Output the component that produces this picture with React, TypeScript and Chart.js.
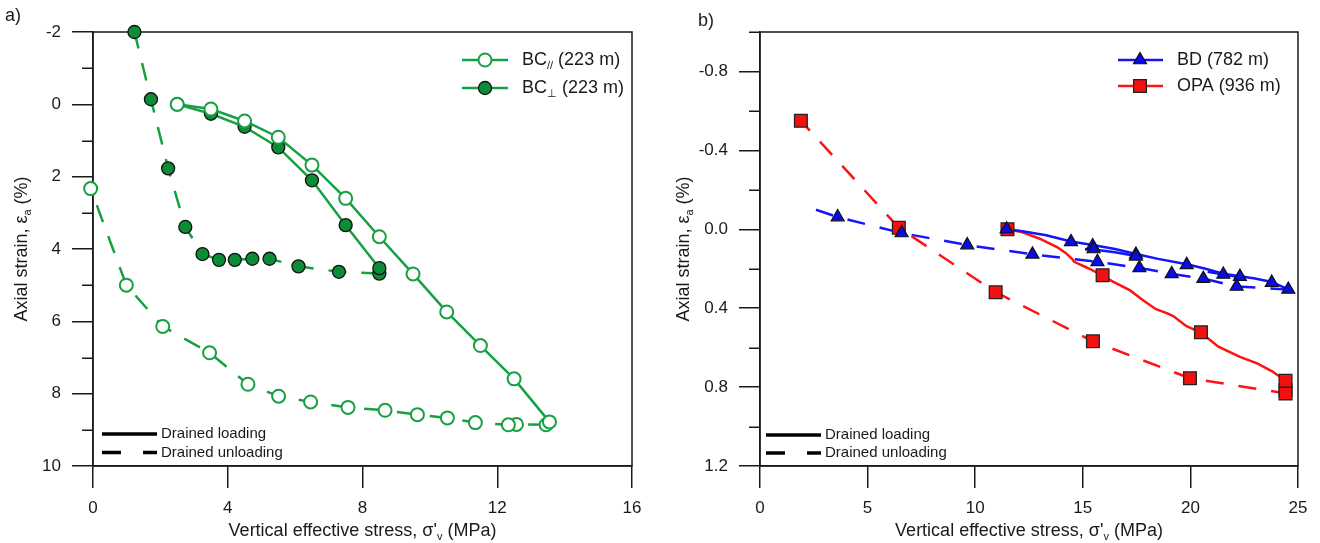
import React, { useEffect, useRef } from 'react';
import { Chart, registerables } from 'chart.js';

Chart.register(...registerables);

const FONT = '"Liberation Sans", Arial, Helvetica, sans-serif';
const INK = '#1a1a1a';
const GREEN = '#16a042';
const GREEN_FILL = '#0b8d37';
const BLUE = '#1414ff';
const BLUE_FILL = '#0b0be6';
const RED = '#ff1212';
const RED_FILL = '#f41010';

// ---------- Panel a) : BC samples (223 m) ----------
const xTicksA = [0, 4, 8, 12, 16];
const yTicksA = [-2, 0, 2, 4, 6, 8, 10];
const yMinorA = [-1, 1, 3, 5, 7, 9];

const bcParLoadX = [2.5, 3.5, 4.5, 5.5, 6.5, 7.5, 8.5, 9.5, 10.5, 11.5, 12.5, 13.55];
const bcParLoadY = [0, 0.13, 0.46, 0.91, 1.68, 2.6, 3.66, 4.69, 5.74, 6.67, 7.59, 8.78];
const bcParUnloadX = [13.45, 12.57, 12.33, 11.35, 10.52, 9.63, 8.67, 7.57, 6.46, 5.51, 4.6, 3.46, 2.07, 0.99, -0.07];
const bcParUnloadY = [8.86, 8.85, 8.86, 8.8, 8.67, 8.58, 8.46, 8.38, 8.23, 8.07, 7.74, 6.87, 6.14, 5.0, 2.33];

const bcPerpLoadX = [2.5, 3.5, 4.5, 5.5, 6.5, 7.5, 8.5];
const bcPerpLoadY = [0, 0.26, 0.62, 1.19, 2.1, 3.34, 4.53];
const bcPerpUnloadX = [8.5, 7.3, 6.1, 5.24, 4.73, 4.21, 3.74, 3.25, 2.74, 2.23, 1.72, 1.23];
const bcPerpUnloadY = [4.68, 4.63, 4.48, 4.27, 4.27, 4.3, 4.3, 4.14, 3.39, 1.77, -0.14, -2.0];

// ---------- Panel b) : BD (782 m) and OPA (936 m) ----------
const xTicksB = [0, 5, 10, 15, 20, 25];
const yTicksB = [-0.8, -0.4, 0, 0.4, 0.8, 1.2];
const yMinorB = [-1.0, -0.6, -0.2, 0.2, 0.6, 1.0];

const bdLoadX = [11.5, 12.2, 13.3, 14.45, 15.46, 16.5, 17.47, 18.5, 19.83, 20.7, 21.53, 22.3, 23.0, 23.78, 24.55];
const bdLoadY = [0, 0.01, 0.03, 0.062, 0.08, 0.1, 0.125, 0.15, 0.177, 0.2, 0.225, 0.238, 0.25, 0.267, 0.305];
const bdReload1X = [15.1, 15.5, 16.5, 17.47];
const bdReload1Y = [0.1, 0.102, 0.116, 0.135];
const bdReload2X = [20.8, 21.53, 22.3];
const bdReload2Y = [0.215, 0.229, 0.243];
const bdUnloadX = [24.55, 22.15, 20.6, 19.13, 17.63, 15.68, 12.66, 9.63, 6.58, 3.61, 2.3];
const bdUnloadY = [0.305, 0.29, 0.25, 0.226, 0.196, 0.165, 0.127, 0.08, 0.019, -0.062, -0.11];
const bdMarkX = [11.46, 14.45, 15.46, 15.5, 17.47, 17.47, 19.83, 21.53, 22.3, 23.78, 24.55, 22.15, 20.6, 19.13, 17.63, 15.68, 12.66, 9.63, 6.58, 3.61];
const bdMarkY = [0.0, 0.064, 0.085, 0.1, 0.128, 0.137, 0.18, 0.229, 0.24, 0.27, 0.305, 0.29, 0.25, 0.226, 0.196, 0.165, 0.127, 0.08, 0.019, -0.062];

const opaLoadX = [11.5, 12.2, 13.0, 13.8, 14.2, 14.5, 14.6, 15.2, 15.9, 16.4, 17.2, 17.8, 18.4, 18.9, 19.2, 19.8, 20.5, 21.3, 22.3, 23.1, 23.8, 24.42];
const opaLoadY = [0, 0.015, 0.048, 0.09, 0.12, 0.15, 0.165, 0.195, 0.233, 0.265, 0.31, 0.36, 0.405, 0.425, 0.44, 0.49, 0.525, 0.595, 0.647, 0.68, 0.72, 0.768];
const opaLoadMarkX = [11.5, 15.92, 20.49, 24.42];
const opaLoadMarkY = [0, 0.233, 0.522, 0.768];
const opaUnloadX = [24.42, 24.42, 19.98, 15.47, 10.95, 6.45, 1.9];
const opaUnloadY = [0.815, 0.832, 0.755, 0.568, 0.319, -0.008, -0.55];

// ---------- texts ----------
type Part = { t: string; sub?: boolean };
const yTitleParts: Part[] = [{ t: 'Axial strain, ε' }, { t: 'a', sub: true }, { t: ' (%)' }];
const xTitleParts: Part[] = [{ t: "Vertical effective stress, σ'" }, { t: 'v', sub: true }, { t: ' (MPa)' }];
const legendBCpar: Part[] = [{ t: 'BC' }, { t: '//', sub: true }, { t: ' (223 m)' }];
const legendBCperp: Part[] = [{ t: 'BC' }, { t: '⊥', sub: true }, { t: ' (223 m)' }];
const legendBD: Part[] = [{ t: 'BD (782 m)' }];
const legendOPA: Part[] = [{ t: 'OPA (936 m)' }];
const loadingText = 'Drained loading';
const unloadingText = 'Drained unloading';

const pts = (xs: number[], ys: number[]) => xs.map((x, i) => ({ x, y: ys[i] }));

function drawRich(ctx: CanvasRenderingContext2D, parts: Part[], x: number, y: number, size: number, align: 'left' | 'center') {
  const main = `${size}px ${FONT}`;
  const sub = `${Math.round(size * 0.62)}px ${FONT}`;
  const widths = parts.map((p) => {
    ctx.font = p.sub ? sub : main;
    return ctx.measureText(p.t).width;
  });
  const total = widths.reduce((s, w) => s + w, 0);
  let cx = align === 'center' ? x - total / 2 : x;
  ctx.textAlign = 'left';
  ctx.textBaseline = 'middle';
  ctx.fillStyle = INK;
  parts.forEach((p, i) => {
    ctx.font = p.sub ? sub : main;
    ctx.fillText(p.t, cx, p.sub ? y + size * 0.33 : y);
    cx += widths[i];
  });
}

function drawMarker(ctx: CanvasRenderingContext2D, style: string, x: number, y: number, r: number, fill: string, stroke: string, bw: number) {
  ctx.beginPath();
  if (style === 'circle') {
    ctx.arc(x, y, r, 0, Math.PI * 2);
  } else if (style === 'triangle') {
    ctx.moveTo(x, y - r);
    ctx.lineTo(x + r * 0.866, y + r * 0.5);
    ctx.lineTo(x - r * 0.866, y + r * 0.5);
  } else {
    const s = r * Math.SQRT1_2;
    ctx.rect(x - s, y - s, 2 * s, 2 * s);
  }
  ctx.closePath();
  ctx.fillStyle = fill;
  ctx.fill();
  ctx.lineWidth = bw;
  ctx.strokeStyle = stroke;
  ctx.stroke();
}

type LegendRow = { y: number; color: string; style: string; r: number; fill: string; stroke: string; bw: number; parts: Part[] };
type Decor = {
  minor: number[];
  yTitleX: number;
  xTitleY: number;
  panel: string;
  panelX: number;
  panelY: number;
  legend: { x1: number; x2: number; mx: number; tx: number; rows: LegendRow[] };
  keyLeg: { x1: number; x2: number; tx: number; y1: number; y2: number };
};

function decorPlugin(d: Decor) {
  return {
    id: 'decor',
    beforeDatasetsDraw(chart: any) {
      const ctx = chart.ctx as CanvasRenderingContext2D;
      const a = chart.chartArea;
      const ys = chart.scales.y;
      ctx.save();
      ctx.strokeStyle = INK;
      ctx.lineWidth = 1.5;
      ctx.strokeRect(a.left, a.top, a.right - a.left, a.bottom - a.top);
      ctx.beginPath();
      for (const v of d.minor) {
        const p = Math.round(ys.getPixelForValue(v)) + 0.25;
        ctx.moveTo(a.left - 11, p);
        ctx.lineTo(a.left, p);
      }
      ctx.stroke();
      ctx.restore();
    },
    afterDraw(chart: any) {
      const ctx = chart.ctx as CanvasRenderingContext2D;
      const a = chart.chartArea;
      ctx.save();
      drawRich(ctx, xTitleParts, (a.left + a.right) / 2, d.xTitleY, 18, 'center');
      ctx.save();
      ctx.translate(d.yTitleX, (a.top + a.bottom) / 2);
      ctx.rotate(-Math.PI / 2);
      drawRich(ctx, yTitleParts, 0, 0, 18, 'center');
      ctx.restore();
      drawRich(ctx, [{ t: d.panel }], d.panelX, d.panelY, 18, 'left');
      const L = d.legend;
      for (const r of L.rows) {
        ctx.beginPath();
        ctx.setLineDash([]);
        ctx.strokeStyle = r.color;
        ctx.lineWidth = 2.5;
        ctx.moveTo(L.x1, r.y);
        ctx.lineTo(L.x2, r.y);
        ctx.stroke();
        drawMarker(ctx, r.style, L.mx, r.y, r.r, r.fill, r.stroke, r.bw);
        drawRich(ctx, r.parts, L.tx, r.y, 18, 'left');
      }
      const K = d.keyLeg;
      ctx.strokeStyle = '#000';
      ctx.lineWidth = 3.5;
      ctx.beginPath();
      ctx.moveTo(K.x1, K.y1);
      ctx.lineTo(K.x2, K.y1);
      ctx.stroke();
      ctx.setLineDash([19, 22]);
      ctx.beginPath();
      ctx.moveTo(K.x1, K.y2);
      ctx.lineTo(K.x2, K.y2);
      ctx.stroke();
      ctx.setLineDash([]);
      drawRich(ctx, [{ t: loadingText }], K.tx, K.y1, 15, 'left');
      drawRich(ctx, [{ t: unloadingText }], K.tx, K.y2, 15, 'left');
      ctx.restore();
    },
  };
}

function xAxis(min: number, max: number, ticks: number[]) {
  return {
    type: 'linear',
    position: 'bottom',
    min,
    max,
    afterBuildTicks: (s: any) => {
      s.ticks = ticks.map((v) => ({ value: v }));
    },
    afterFit: (s: any) => {
      s.height = 77;
    },
    ticks: { font: { family: FONT, size: 17 }, color: INK, padding: 10, maxRotation: 0, autoSkip: false, callback: (v: any) => String(v) },
    grid: { display: true, drawOnChartArea: false, drawTicks: true, tickLength: 22, tickWidth: 1.5, tickColor: INK, lineWidth: 1.5, color: INK },
    border: { display: true, color: INK, width: 1.5 },
    title: { display: false },
  };
}

function yAxis(min: number, max: number, ticks: number[], width: number, fmt: (v: number) => string) {
  return {
    type: 'linear',
    position: 'left',
    reverse: true,
    min,
    max,
    afterBuildTicks: (s: any) => {
      s.ticks = ticks.map((v) => ({ value: v }));
    },
    afterFit: (s: any) => {
      s.width = width;
    },
    ticks: { font: { family: FONT, size: 17 }, color: INK, padding: 11, autoSkip: false, callback: (v: any) => fmt(Number(v)) },
    grid: { display: true, drawOnChartArea: false, drawTicks: true, tickLength: 21, tickWidth: 1.5, tickColor: INK, lineWidth: 1.5, color: INK },
    border: { display: true, color: INK, width: 1.5 },
    title: { display: false },
  };
}

const lineDs = (data: any[], color: string, dashed: boolean, extra: any = {}) => ({
  data,
  showLine: true,
  borderColor: color,
  borderWidth: 2.5,
  borderDash: dashed ? [18, 15] : [],
  pointRadius: 0,
  tension: 0,
  clip: false,
  ...extra,
});

function configA(): any {
  const openPt = { pointRadius: 6.5, pointStyle: 'circle', pointBackgroundColor: '#ffffff', pointBorderColor: GREEN, pointBorderWidth: 2 };
  const darkPt = { pointRadius: 6.5, pointStyle: 'circle', pointBackgroundColor: GREEN_FILL, pointBorderColor: '#111', pointBorderWidth: 1.3 };
  return {
    type: 'scatter',
    data: {
      datasets: [
        lineDs(pts(bcParLoadX, bcParLoadY), GREEN, false, openPt),
        lineDs(pts(bcParUnloadX, bcParUnloadY), GREEN, true, openPt),
        lineDs(pts(bcPerpLoadX, bcPerpLoadY), GREEN, false, darkPt),
        lineDs(pts(bcPerpUnloadX, bcPerpUnloadY), GREEN, true, darkPt),
      ],
    },
    options: {
      animation: false,
      responsive: true,
      maintainAspectRatio: false,
      devicePixelRatio: 1,
      events: [],
      layout: { padding: { top: 32, right: 28, left: 0, bottom: 0 } },
      plugins: { legend: { display: false }, tooltip: { enabled: false } },
      scales: {
        x: xAxis(0, 16, xTicksA),
        y: yAxis(-2, 10, yTicksA, 93, (v) => String(v)),
      },
    },
    plugins: [
      decorPlugin({
        minor: yMinorA,
        yTitleX: 22,
        xTitleY: 531,
        panel: 'a)',
        panelX: 5,
        panelY: 16,
        legend: {
          x1: 462,
          x2: 508,
          mx: 485,
          tx: 522,
          rows: [
            { y: 60, color: GREEN, style: 'circle', r: 6.5, fill: '#ffffff', stroke: GREEN, bw: 2, parts: legendBCpar },
            { y: 88, color: GREEN, style: 'circle', r: 6.5, fill: GREEN_FILL, stroke: '#111', bw: 1.3, parts: legendBCperp },
          ],
        },
        keyLeg: { x1: 102, x2: 157, tx: 161, y1: 434, y2: 452.5 },
      }),
    ],
  };
}

function configB(): any {
  return {
    type: 'scatter',
    data: {
      datasets: [
        {
          data: pts(bdMarkX, bdMarkY),
          showLine: false,
          pointStyle: 'triangle',
          pointRadius: 7.5,
          pointBackgroundColor: BLUE_FILL,
          pointBorderColor: '#111',
          pointBorderWidth: 1.2,
          clip: false,
        },
        {
          data: pts(opaLoadMarkX, opaLoadMarkY),
          showLine: false,
          pointStyle: 'rect',
          pointRadius: 9,
          pointBackgroundColor: RED_FILL,
          pointBorderColor: '#222',
          pointBorderWidth: 1.3,
          clip: false,
        },
        lineDs(pts(opaUnloadX, opaUnloadY), RED, true, {
          pointStyle: 'rect',
          pointRadius: 9,
          pointBackgroundColor: RED_FILL,
          pointBorderColor: '#222',
          pointBorderWidth: 1.3,
        }),
        lineDs(pts(bdLoadX, bdLoadY), BLUE, false),
        lineDs(pts(bdReload1X, bdReload1Y), BLUE, false),
        lineDs(pts(bdReload2X, bdReload2Y), BLUE, false),
        lineDs(pts(bdUnloadX, bdUnloadY), BLUE, true),
        lineDs(pts(opaLoadX, opaLoadY), RED, false),
      ],
    },
    options: {
      animation: false,
      responsive: true,
      maintainAspectRatio: false,
      devicePixelRatio: 1,
      events: [],
      layout: { padding: { top: 32, right: 22, left: 0, bottom: 0 } },
      plugins: { legend: { display: false }, tooltip: { enabled: false } },
      scales: {
        x: xAxis(0, 25, xTicksB),
        y: yAxis(-1.0, 1.2, yTicksB, 100, (v) => v.toFixed(1)),
      },
    },
    plugins: [
      decorPlugin({
        minor: yMinorB,
        yTitleX: 24,
        xTitleY: 531,
        panel: 'b)',
        panelX: 38,
        panelY: 21,
        legend: {
          x1: 458,
          x2: 503,
          mx: 480,
          tx: 517,
          rows: [
            { y: 60, color: BLUE, style: 'triangle', r: 7.5, fill: BLUE_FILL, stroke: '#111', bw: 1.2, parts: legendBD },
            { y: 86, color: RED, style: 'rect', r: 9, fill: RED_FILL, stroke: '#222', bw: 1.3, parts: legendOPA },
          ],
        },
        keyLeg: { x1: 106, x2: 161, tx: 165, y1: 435, y2: 453 },
      }),
    ],
  };
}

export default function App() {
  const leftRef = useRef<HTMLCanvasElement>(null);
  const rightRef = useRef<HTMLCanvasElement>(null);

  useEffect(() => {
    const c1 = new Chart(leftRef.current as HTMLCanvasElement, configA());
    const c2 = new Chart(rightRef.current as HTMLCanvasElement, configB());
    return () => {
      c1.destroy();
      c2.destroy();
    };
  }, []);

  return (
    <div style={{ position: 'absolute', left: 0, top: 0, width: 1320, height: 543, background: '#ffffff' }}>
      <div style={{ position: 'absolute', left: 0, top: 0, width: 660, height: 543 }}>
        <canvas ref={leftRef} />
      </div>
      <div style={{ position: 'absolute', left: 660, top: 0, width: 660, height: 543 }}>
        <canvas ref={rightRef} />
      </div>
    </div>
  );
}
